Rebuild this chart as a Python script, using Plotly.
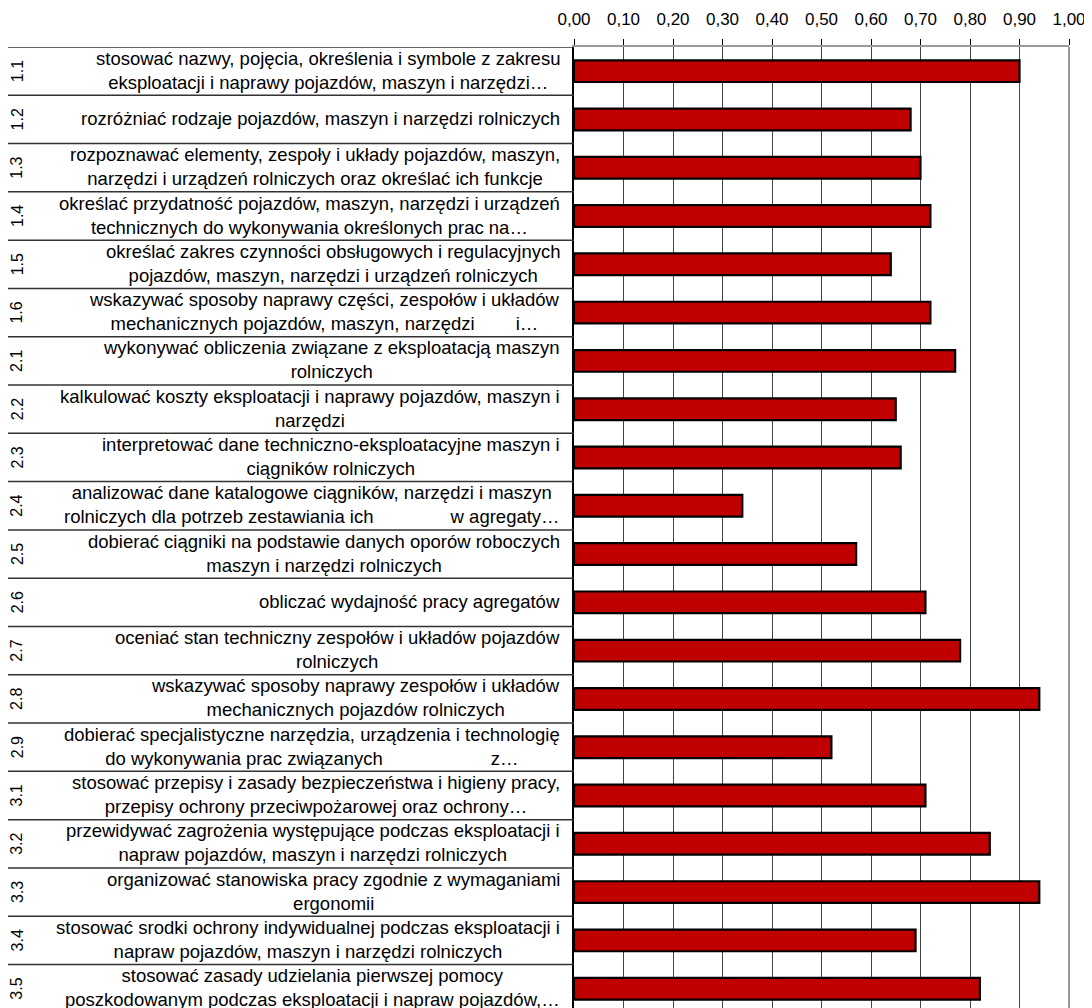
import plotly.graph_objects as go

codes = ["1.1", "1.2", "1.3", "1.4", "1.5", "1.6",
         "2.1", "2.2", "2.3", "2.4", "2.5", "2.6", "2.7", "2.8", "2.9",
         "3.1", "3.2", "3.3", "3.4", "3.5"]

labels = [
    "stosować nazwy, pojęcia, określenia i symbole z zakresu<br>eksploatacji i naprawy pojazdów, maszyn i narzędzi…",
    "rozróżniać rodzaje pojazdów, maszyn i narzędzi rolniczych",
    "rozpoznawać elementy, zespoły i układy pojazdów, maszyn,<br>narzędzi i urządzeń rolniczych oraz określać ich funkcje",
    "określać przydatność pojazdów, maszyn, narzędzi i urządzeń<br>technicznych do wykonywania określonych prac na…",
    "określać zakres czynności obsługowych i regulacyjnych<br>pojazdów, maszyn, narzędzi i urządzeń rolniczych",
    "wskazywać sposoby naprawy części, zespołów i układów<br>mechanicznych pojazdów, maszyn, narzędzi        i…",
    "wykonywać obliczenia związane z eksploatacją maszyn<br>rolniczych",
    "kalkulować koszty eksploatacji i naprawy pojazdów, maszyn i<br>narzędzi",
    "interpretować dane techniczno-eksploatacyjne maszyn i<br>ciągników rolniczych",
    "analizować dane katalogowe ciągników, narzędzi i maszyn<br>rolniczych dla potrzeb zestawiania ich               w agregaty…",
    "dobierać ciągniki na podstawie danych oporów roboczych<br>maszyn i narzędzi rolniczych",
    "obliczać wydajność pracy agregatów",
    "oceniać stan techniczny zespołów i układów pojazdów<br>rolniczych",
    "wskazywać sposoby naprawy zespołów i układów<br>mechanicznych pojazdów rolniczych",
    "dobierać specjalistyczne narzędzia, urządzenia i technologię<br>do wykonywania prac związanych                     z…",
    "stosować przepisy i zasady bezpieczeństwa i higieny pracy,<br>przepisy ochrony przeciwpożarowej oraz ochrony…",
    "przewidywać zagrożenia występujące podczas eksploatacji i<br>napraw pojazdów, maszyn i narzędzi rolniczych",
    "organizować stanowiska pracy zgodnie z wymaganiami<br>ergonomii",
    "stosować srodki ochrony indywidualnej podczas eksploatacji i<br>napraw pojazdów, maszyn i narzędzi rolniczych",
    "stosować zasady udzielania pierwszej pomocy<br>poszkodowanym podczas eksploatacji i napraw pojazdów,…",
]

values = [0.90, 0.68, 0.70, 0.72, 0.64, 0.72,
          0.77, 0.65, 0.66, 0.34, 0.57, 0.71, 0.78, 0.94, 0.52,
          0.71, 0.84, 0.94, 0.69, 0.82]

font = "Liberation Sans, Arial, sans-serif"

fig = go.Figure()

fig.add_trace(go.Bar(
    x=values,
    y=codes,
    orientation="h",
    width=0.45,
    marker=dict(color="#C00000", line=dict(color="black", width=2.2)),
    showlegend=False,
))

# kolumna z kodami i opisami (pozycja wg indeksu kategorii)
for i, (c, lab) in enumerate(zip(codes, labels)):
    fig.add_annotation(x=0, y=i, xref="paper", yref="y", text=c,
                       textangle=-90, showarrow=False, xanchor="center",
                       xshift=-557, font=dict(size=16, color="black"))
    fig.add_annotation(x=0, y=i, xref="paper", yref="y", text=lab,
                       showarrow=False, xanchor="right", align="center",
                       xshift=-12, yshift=1, font=dict(size=18.5, color="black"))

# linie oddzielające wiersze tabeli
for i in range(len(codes) + 1):
    fig.add_shape(type="line", xref="paper", yref="y",
                  x0=-570 / 495, x1=0, y0=i - 0.5, y1=i - 0.5,
                  line=dict(color="#333333", width=1.5))

# prawa krawędź obszaru wykresu
fig.add_shape(type="line", xref="paper", yref="paper", x0=1, x1=1, y0=0, y1=1,
              line=dict(color="#999999", width=2))

fig.update_layout(
    width=1084, height=1000,
    margin=dict(l=566, r=23, t=39, b=0),
    plot_bgcolor="white", paper_bgcolor="white",
    separators=", ",
    font=dict(family=font, size=17, color="black"),
    xaxis=dict(
        side="top", range=[0, 1], dtick=0.1, tickformat=".2f",
        showgrid=True, gridcolor="#444444", gridwidth=1,
        showline=True, linecolor="#999999", linewidth=1.5,
        ticks="outside", ticklen=6, tickcolor="black",
        ticklabelstandoff=7,
        zeroline=False, fixedrange=True,
    ),
    yaxis=dict(
        type="category", range=[19.4, -0.5],
        showticklabels=False, showgrid=False, zeroline=False,
        showline=True, linecolor="black", linewidth=1.5,
        ticks="",
    ),
)

fig.write_html("out.html")
